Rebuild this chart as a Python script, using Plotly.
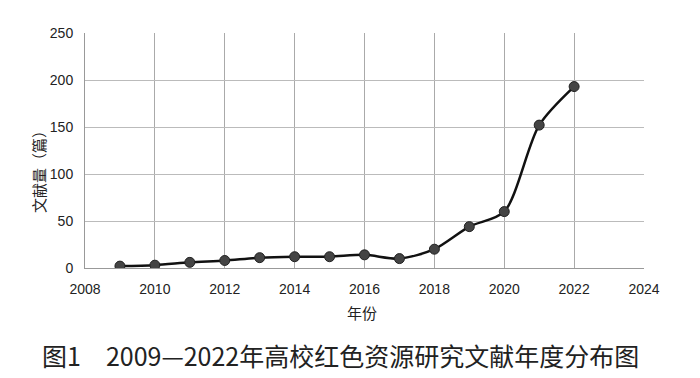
import plotly.graph_objects as go

years = [2009, 2010, 2011, 2012, 2013, 2014, 2015, 2016, 2017, 2018, 2019, 2020, 2021, 2022]
counts = [2, 3, 6, 8, 11, 12, 12, 14, 10, 20, 44, 60, 152, 193]
x_ticks = [2008, 2010, 2012, 2014, 2016, 2018, 2020, 2022, 2024]
y_ticks = [0, 50, 100, 150, 200, 250]

font_cjk = "Noto Sans CJK SC"

# page body has an 8px default margin; compensate
OFF = 8
W, H = 700 - OFF, 378 - OFF
L, T, R, B = 85 - OFF, 33 - OFF, 56, 110
PW = W - L - R
PH = H - T - B


def px_x(x):
    return (x - OFF - L) / PW


def px_y(y):
    return (H - B - (y - OFF)) / PH


fig = go.Figure()
fig.add_trace(go.Scatter(
    x=years, y=counts, mode="lines+markers",
    line=dict(color="#111111", width=2.5, shape="spline", smoothing=0.8),
    marker=dict(color="#444444", size=10, line=dict(color="#222222", width=1)),
    showlegend=False,
))

fig.update_layout(
    width=W, height=H,
    margin=dict(l=L, r=R, t=T, b=B),
    paper_bgcolor="white", plot_bgcolor="white",
    font=dict(family="Liberation Sans, Arial", color="#222222", size=14),
    xaxis=dict(range=[2008, 2024], tickvals=x_ticks, showgrid=True,
               gridcolor="#aaaaaa", gridwidth=1, zeroline=False,
               showline=True, linecolor="#999999", ticks="",
               tickfont=dict(size=14), ticklabelstandoff=8),
    yaxis=dict(range=[0, 250], tickvals=y_ticks, showgrid=True,
               gridcolor="#bbbbbb", gridwidth=1, zeroline=False,
               showline=True, linecolor="#999999", ticks="",
               tickfont=dict(size=14), ticklabelstandoff=8),
)

fig.add_annotation(text="年份", xref="paper", yref="paper", x=px_x(362), y=px_y(312),
                   showarrow=False, font=dict(family=font_cjk, size=15, color="#222222"),
                   xanchor="center", yanchor="middle")
fig.add_annotation(text="文献量（篇）", xref="paper", yref="paper", x=px_x(38), y=px_y(168),
                   showarrow=False, textangle=-90,
                   font=dict(family=font_cjk, size=15, color="#222222"),
                   xanchor="center", yanchor="middle")
fig.add_annotation(text="图1　2009—2022年高校红色资源研究文献年度分布图",
                   xref="paper", yref="paper", x=px_x(340), y=px_y(355),
                   showarrow=False,
                   font=dict(family=font_cjk, size=25, color="#222222"),
                   xanchor="center", yanchor="middle")

fig.write_html("out.html")
